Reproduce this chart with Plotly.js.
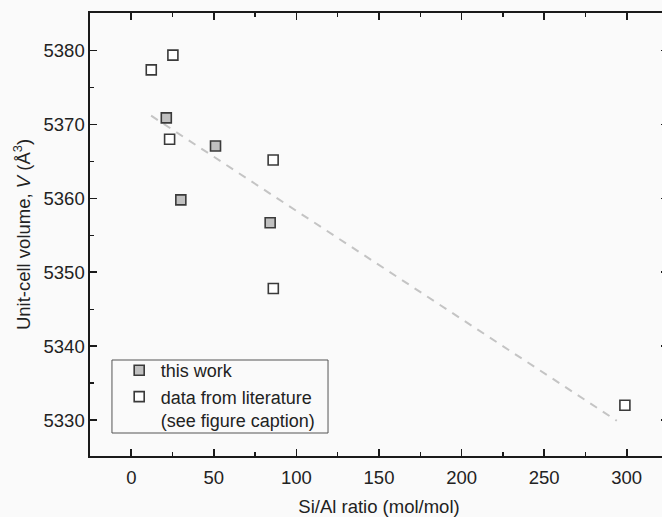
<!DOCTYPE html>
<html>
<head>
<meta charset="utf-8">
<script src="https://cdn.plot.ly/plotly-3.0.1.min.js"></script>
<style>
html,body{margin:0;padding:0;overflow:hidden;background:#fafafa;}
#chart{width:672px;height:517px;}
</style>
</head>
<body>
<div id="chart"></div>
<script>
// Data
const thisWorkSiAl = [21.2, 51.0, 30.0, 84.1];
const thisWorkVol  = [5370.9, 5367.1, 5359.8, 5356.7];

const litSiAl = [12.1, 25.2, 23.2, 85.9, 86.0, 298.9];
const litVol  = [5377.4, 5379.4, 5368.0, 5365.2, 5347.8, 5332.0];

const fitSiAl = [12, 294];
const fitVol  = [5371.2, 5329.9];

const markerLine = {color: '#3a3a3a', width: 1.6};
const FONT = 'Liberation Sans, Arial, sans-serif';

const traces = [
  {
    x: fitSiAl, y: fitVol, mode: 'lines', showlegend: false, hoverinfo: 'skip',
    line: {color: '#c4c4c4', width: 2, dash: '8px,7px'}
  },
  {
    x: thisWorkSiAl, y: thisWorkVol, mode: 'markers', name: 'this work',
    marker: {symbol: 'square', size: 10, color: '#c0c0c0', line: markerLine}
  },
  {
    x: litSiAl, y: litVol, mode: 'markers', name: 'data from literature<br>(see figure caption)',
    marker: {symbol: 'square', size: 10, color: '#ffffff', line: markerLine}
  }
];

const axisCommon = {
  showgrid: false, zeroline: false, showline: true, linecolor: '#1a1a1a', linewidth: 1.6,
  ticks: 'inside', ticklen: 7, tickwidth: 1.6, tickcolor: '#1a1a1a', mirror: 'ticks',
  tickfont: {family: FONT, size: 18.5, color: '#222'}
};

const layout = {
  width: 672, height: 517,
  margin: {l: 90, r: 4, t: 13, b: 61},
  paper_bgcolor: '#fafafa', plot_bgcolor: '#fafafa',
  font: {family: FONT, color: '#222'},
  xaxis: Object.assign({}, axisCommon, {
    range: [-25, 325], dtick: 50, tick0: 0, ticklabelstandoff: 4,
    minor: {dtick: 25, ticks: 'inside', ticklen: 4, tickwidth: 1.4, tickcolor: '#1a1a1a', showgrid: false},
    title: {text: 'Si/Al ratio (mol/mol)', font: {family: FONT, size: 18.5, color: '#222'}, standoff: 15}
  }),
  yaxis: Object.assign({}, axisCommon, {
    range: [5325.13, 5385.1], dtick: 10, tick0: 5330,
    minor: {dtick: 5, ticks: 'inside', ticklen: 4, tickwidth: 1.4, tickcolor: '#1a1a1a', showgrid: false},
    title: {text: 'Unit-cell volume, <i>V</i> (Å<sup>3</sup>)', font: {family: FONT, size: 18.5, color: '#222'}, standoff: 8}
  }),
  legend: {
    x: 0.0479, y: 0.2348, xanchor: 'left', yanchor: 'top',
    bgcolor: 'rgba(0,0,0,0)', borderwidth: 0,
    font: {family: FONT, size: 18, color: '#222'}, valign: 'top', itemwidth: 33,
    tracegroupgap: 0
  },
  shapes: [{
    type: 'rect', xref: 'paper', yref: 'paper', x0: 0.038, x1: 0.4118, y0: 0.0519, y1: 0.2167,
    line: {color: '#555', width: 1}, fillcolor: 'rgba(0,0,0,0)', layer: 'above'
  }],
  showlegend: true
};

Plotly.newPlot('chart', traces, layout, {staticPlot: true, responsive: false});
</script>
</body>
</html>
